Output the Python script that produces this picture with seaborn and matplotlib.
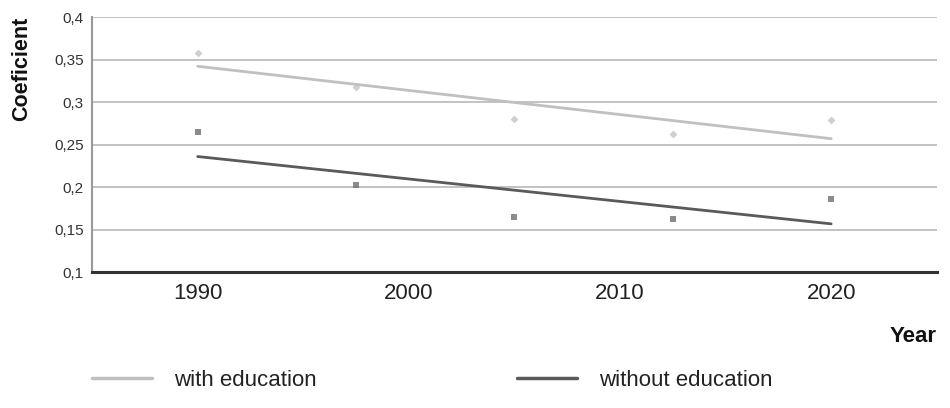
import pandas as pd
import matplotlib.pyplot as plt
import seaborn as sns
from matplotlib.lines import Line2D
from matplotlib.ticker import FuncFormatter

YEARS = [1990, 1997.5, 2005, 2012.5, 2020]
WITH_EDUCATION = [0.358, 0.318, 0.280, 0.263, 0.279]
WITHOUT_EDUCATION = [0.265, 0.203, 0.165, 0.163, 0.186]
SERIES = ['with education', 'without education']
X_TICKS = [1990, 2000, 2010, 2020]
Y_TICKS = [0.1, 0.15, 0.2, 0.25, 0.3, 0.35, 0.4]

sns.set_theme(style='white')
plt.rcParams['font.family'] = ['Liberation Sans', 'DejaVu Sans']

df = pd.DataFrame({
    'Year': YEARS * 2,
    'Coefficient': WITH_EDUCATION + WITHOUT_EDUCATION,
    'Series': [SERIES[0]] * len(YEARS) + [SERIES[1]] * len(YEARS),
})

line_colors = {'with education': '#c0c0c0', 'without education': '#5a5a5a'}
marker_colors = {'with education': '#c4c4c4', 'without education': '#6e6e6e'}
markers = {'with education': 'D', 'without education': 's'}

fig = plt.figure(figsize=(9.5, 4.08), dpi=100)
ax = fig.add_axes([0.097, 0.333, 0.889, 0.625])

for s in SERIES:
    sub = df[df['Series'] == s]
    sns.regplot(data=sub, x='Year', y='Coefficient', ax=ax, ci=None, truncate=True,
                marker=markers[s],
                scatter_kws={'s': 16, 'color': marker_colors[s], 'linewidths': 0},
                line_kws={'color': line_colors[s], 'linewidth': 2})

ax.set_xlim(1985, 2025)
ax.set_ylim(0.1, 0.4)
ax.set_xticks(X_TICKS)
ax.set_xticklabels([str(x) for x in X_TICKS], fontsize=16, color='#222222')
ax.set_yticks(Y_TICKS)
ax.yaxis.set_major_formatter(FuncFormatter(lambda v, p: f"{v:g}".replace('.', ',')))
ax.tick_params(axis='y', labelsize=11, labelcolor='#333333', length=0, pad=6)
ax.tick_params(axis='x', length=0, pad=8)
ax.grid(axis='y', color='#bdbdbd', linewidth=1.3)
ax.set_axisbelow(True)

for side in ['top', 'right']:
    ax.spines[side].set_visible(False)
ax.spines['left'].set_color('#999999')
ax.spines['left'].set_linewidth(1.5)
ax.spines['bottom'].set_color('#333333')
ax.spines['bottom'].set_linewidth(2.2)

ax.set_xlabel('')
ax.set_ylabel('')
fig.text(0.012, 0.96, 'Coeficient', rotation=90, ha='left', va='top',
         fontsize=15.5, fontweight='bold', color='#111111')
fig.text(0.986, 0.175, 'Year', ha='right', va='center',
         fontsize=16, fontweight='bold', color='#111111')

handles = [Line2D([0], [0], color=line_colors[s], linewidth=2.5) for s in SERIES]
fig.legend(handles, SERIES, loc='center left', bbox_to_anchor=(0.076, 0.068), ncol=2,
           frameon=False, fontsize=16, handlelength=2.7, handletextpad=1.0,
           columnspacing=9.0, labelcolor='#222222')

plt.savefig('out.png', dpi=100)
